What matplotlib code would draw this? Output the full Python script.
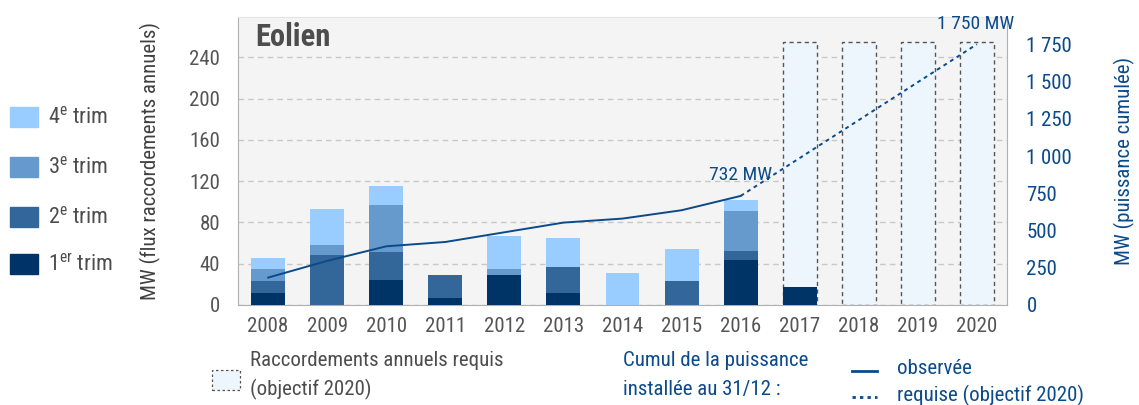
import matplotlib
matplotlib.use("Agg")
import matplotlib.pyplot as plt
from matplotlib.patches import Rectangle
from matplotlib.lines import Line2D

plt.rcParams['font.family'] = ['Roboto Condensed', 'Liberation Sans Narrow', 'Roboto', 'DejaVu Sans']

# Data
years = ['2008', '2009', '2010', '2011', '2012', '2013', '2014', '2015', '2016',
         '2017', '2018', '2019', '2020']
trim1 = [12, 0, 24, 6.5, 29, 12, 0, 0, 44, 17.4, 0, 0, 0]
trim2 = [11, 48, 27, 22.5, 0, 24.5, 0, 23, 8, 0, 0, 0, 0]
trim3 = [12, 10, 46, 0, 5.5, 0, 0, 0, 39, 0, 0, 0, 0]
trim4 = [11, 35, 18, 0, 32, 28, 30.7, 31, 11, 0, 0, 0, 0]
required_years = ['2017', '2018', '2019', '2020']
required_annual = [254.5, 254.5, 254.5, 254.5]
observed_years = ['2008', '2009', '2010', '2011', '2012', '2013', '2014', '2015', '2016']
observed_cumul = [184, 296, 394, 423, 488, 553, 580, 636, 732]
target_years = ['2016', '2017', '2018', '2019', '2020']
target_cumul = [732, 986.5, 1241, 1495.5, 1750]

c1, c2, c3, c4 = '#003366', '#336699', '#6699cc', '#99ccff'
blue = '#0b4a8b'
grey = '#555555'

fig = plt.figure(figsize=(11.39, 4.05), dpi=100)
ax = fig.add_axes([238 / 1139, 1 - 305 / 405, (1007 - 238) / 1139, (305 - 17) / 405])
ax.set_facecolor('#f4f4f4')

x = list(range(len(years)))
xi = {y: i for i, y in enumerate(years)}
w = 0.575

# required bars (background)
ax.bar([xi[y] for y in required_years], required_annual, width=w, color='#eef6fd',
       edgecolor='#555555', linestyle=(0, (3, 2.5)), linewidth=1.0, zorder=2)

bottom = [0] * len(years)
for vals, col in [(trim1, c1), (trim2, c2), (trim3, c3), (trim4, c4)]:
    ax.bar(x, vals, width=w, bottom=bottom, color=col, zorder=3)
    bottom = [b + v for b, v in zip(bottom, vals)]

ax.set_xlim(-0.51, 12.51)
ax.set_ylim(0, 279)
ax.set_yticks(range(0, 241, 40))
ax.set_xticks(x)
ax.set_xticklabels(years)
ax.grid(axis='y', color='#c8c8c8', linestyle=(0, (4, 3)), linewidth=1, zorder=1)
ax.tick_params(axis='both', length=0, labelsize=15, colors='#555555')
ax.tick_params(axis='y', pad=13)
ax.tick_params(axis='x', pad=9)
ax.spines['top'].set_color('#e4e4e4')
for s in ['left', 'bottom', 'right']:
    ax.spines[s].set_color('#b0b0b0')
ax.set_ylabel('MW (flux raccordements annuels)', fontsize=15, color='#404040', labelpad=20)

ax.text(0.022, 0.93, 'Eolien', transform=ax.transAxes, fontsize=22, fontweight='bold',
        color='#4d4d4d', va='center', ha='left')

# right axis: cumulative
ax2 = ax.twinx()
ax2.set_ylim(0, 1933)
ax2.set_yticks(range(0, 1751, 250))
ax2.set_yticklabels(['0', '250', '500', '750', '1 000', '1 250', '1 500', '1 750'])
ax2.tick_params(axis='y', length=0, labelsize=15, colors=blue, pad=14)
for s in ax2.spines.values():
    s.set_visible(False)
ax2.set_ylabel('MW (puissance cumulée)', fontsize=15, color=blue, labelpad=30)

ax2.plot([xi[y] for y in observed_years], observed_cumul, color=blue, linewidth=1.4, zorder=5)
ax2.plot([xi[y] for y in target_years], target_cumul, color=blue, linewidth=1.4,
         linestyle=(0, (2, 2)), zorder=5)
ax2.text(xi['2016'], 872, '732 MW', color=blue, fontsize=14, ha='center', va='center')
ax2.text(xi['2020'] - 0.02, 1886, '1 750 MW', color=blue, fontsize=14, ha='center', va='center')

# left legend
leg = [('4', 'e', c4, 117), ('3', 'e', c3, 167), ('2', 'e', c2, 217), ('1', 'er', c1, 264)]
for num, sup, col, yy in leg:
    fig.patches.append(Rectangle((10 / 1139, 1 - (yy + 10) / 405), 28 / 1139, 20 / 405,
                                 transform=fig.transFigure, color=col))
    fig.text(48 / 1139, 1 - yy / 405, num + r'$^{\mathregular{' + sup + '}}$' + ' trim',
             fontsize=16, color='#4d4d4d', va='center', ha='left')

# bottom legend
fig.patches.append(Rectangle((212 / 1139, 1 - 390 / 405), 28 / 1139, 20 / 405,
                             transform=fig.transFigure, facecolor='#eef6fd',
                             edgecolor='#555555', linestyle=(0, (2, 2)), linewidth=0.9))
fig.text(250 / 1139, 1 - 360 / 405, 'Raccordements annuels requis', fontsize=15,
         color='#4d4d4d', va='center')
fig.text(250 / 1139, 1 - 389 / 405, '(objectif 2020)', fontsize=15, color='#4d4d4d', va='center')
fig.text(623 / 1139, 1 - 360 / 405, 'Cumul de la puissance', fontsize=15, color=blue, va='center')
fig.text(623 / 1139, 1 - 389 / 405, 'installée au 31/12 :', fontsize=15, color=blue, va='center')
fig.lines.append(Line2D([852 / 1139, 877 / 1139], [1 - 371 / 405, 1 - 371 / 405],
                        transform=fig.transFigure, color=blue, linewidth=2))
fig.lines.append(Line2D([852 / 1139, 877 / 1139], [1 - 397 / 405, 1 - 397 / 405],
                        transform=fig.transFigure, color=blue, linewidth=2,
                        linestyle=(0, (1.2, 1.5))))
fig.text(897 / 1139, 1 - 369 / 405, 'observée', fontsize=15, color=blue, va='center')
fig.text(897 / 1139, 1 - 395 / 405, 'requise (objectif 2020)', fontsize=15, color=blue, va='center')

fig.savefig('out.png', dpi=100)
